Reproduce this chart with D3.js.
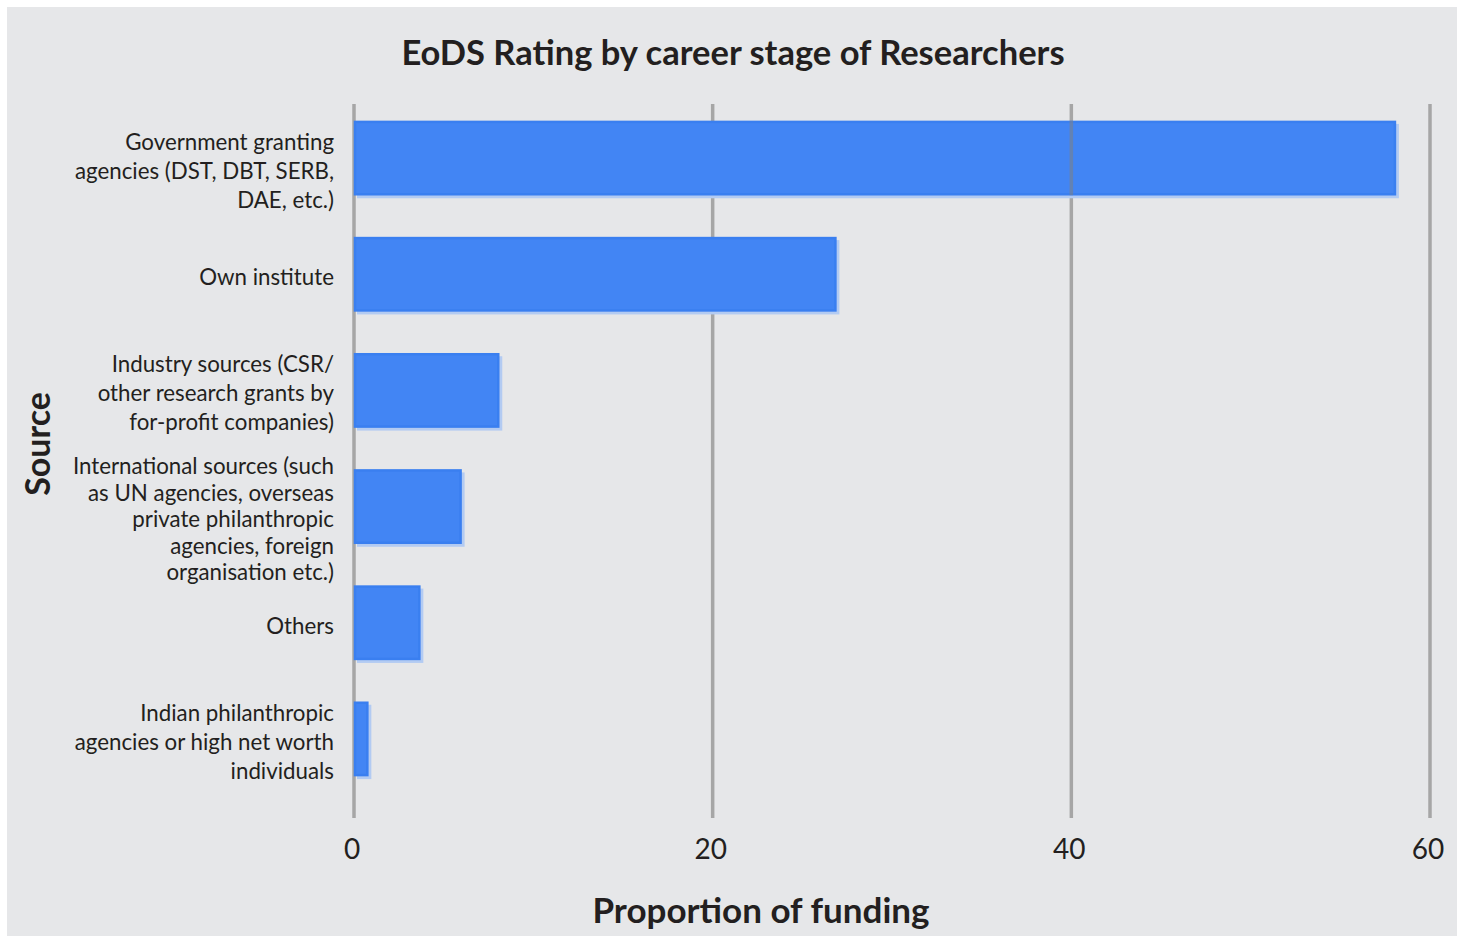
<!DOCTYPE html>
<html>
<head>
<meta charset="utf-8">
<script src="https://cdn.jsdelivr.net/npm/d3@7"></script>
<style>
  html, body { margin: 0; padding: 0; background: #fff; }
  #chart { width: 1464px; height: 936px; }
  text { font-family: Lato, "Open Sans", sans-serif; fill: #231f20; }
</style>
</head>
<body>
<div id="chart"></div>
<script>
// -------------------- DATA --------------------
const sources = [
  "Government",
  "Own institute",
  "Industry",
  "International",
  "Others",
  "Indian philanthropic"
];
const sourceLabels = [
  ["Government granting", "agencies (DST, DBT, SERB,", "DAE, etc.)"],
  ["Own institute"],
  ["Industry sources (CSR/", "other research grants by", "for-profit companies)"],
  ["International sources (such", "as UN agencies, overseas", "private philanthropic", "agencies, foreign", "organisation etc.)"],
  ["Others"],
  ["Indian philanthropic", "agencies or high net worth", "individuals"]
];
const funding = [58.1, 26.9, 8.1, 6.0, 3.7, 0.8];
const xTicks = [0, 20, 40, 60];

const W = 1464, H = 936;
const margin = { top: 104, right: 34, bottom: 118, left: 354 };

const svg = d3.select("#chart").append("svg")
  .attr("width", W)
  .attr("height", H);

// background panel
svg.append("rect")
  .attr("x", 7).attr("y", 7)
  .attr("width", 1450).attr("height", H - 7)
  .attr("fill", "#e6e7e9");

const x = d3.scaleLinear()
  .domain([0, 60])
  .range([margin.left, W - margin.right]);

const y = d3.scaleBand()
  .domain(sources)
  .range([100, 797])
  .paddingInner(0.36)
  .paddingOuter(0.18);

// -------------------- GRID --------------------
svg.append("g")
  .selectAll("line")
  .data(xTicks)
  .join("line")
  .attr("x1", d => x(d)).attr("x2", d => x(d))
  .attr("y1", margin.top).attr("y2", H - margin.bottom)
  .attr("stroke", "#a6a6a6")
  .attr("stroke-width", 3.5);

// -------------------- BARS --------------------
const data = sources.map((s, i) => ({ source: s, value: funding[i], lines: sourceLabels[i] }));

const bars = svg.append("g");

bars.selectAll(".shadow")
  .data(data)
  .join("rect")
  .attr("class", "shadow")
  .attr("x", x(0) + 3)
  .attr("y", d => y(d.source) + 3)
  .attr("width", d => x(d.value) - x(0))
  .attr("height", y.bandwidth())
  .attr("fill", "#b3cbf2");

bars.selectAll(".bar")
  .data(data)
  .join("rect")
  .attr("class", "bar")
  .attr("x", x(0) + 1)
  .attr("y", d => y(d.source) + 1)
  .attr("width", d => x(d.value) - x(0) - 2)
  .attr("height", y.bandwidth() - 2)
  .attr("fill", "#4285f4")
  .attr("stroke", "#3a7ff0")
  .attr("stroke-width", 2.5);

// gridline at 40 shows over the top bar in the reference
svg.append("line")
  .attr("x1", x(40)).attr("x2", x(40))
  .attr("y1", y(sources[0])).attr("y2", y(sources[0]) + y.bandwidth())
  .attr("stroke", "#808080")
  .attr("stroke-opacity", 0.55)
  .attr("stroke-width", 3.5);

// -------------------- Y LABELS --------------------
const labelG = svg.append("g");
data.forEach((d, i) => {
  const lh = d.lines.length > 3 ? 26.5 : 29;
  // first label and the long one sit a little lower in the original
  const nudge = (i === 0 || d.lines.length > 3) ? 13 : 3;
  const cy = y(d.source) + y.bandwidth() / 2 + nudge;
  const t = labelG.append("text")
    .attr("text-anchor", "end")
    .style("font-size", "22.3px");
  d.lines.forEach((ln, j) => {
    t.append("tspan")
      .attr("x", 334)
      .attr("y", cy + (j - (d.lines.length - 1) / 2) * lh)
      .attr("dy", "0.35em")
      .text(ln);
  });
});

// -------------------- X TICKS --------------------
svg.append("g")
  .selectAll("text")
  .data(xTicks)
  .join("text")
  .attr("x", d => x(d) - 2)
  .attr("y", 849)
  .attr("dy", "0.35em")
  .attr("text-anchor", "middle")
  .style("font-size", "28px")
  .text(d => d);

// -------------------- TITLES --------------------
svg.append("text")
  .attr("x", 733).attr("y", 53)
  .attr("dy", "0.35em")
  .attr("text-anchor", "middle")
  .style("font-size", "34.5px")
  .style("font-weight", "bold")
  .text("EoDS Rating by career stage of Researchers");

svg.append("text")
  .attr("x", 761).attr("y", 911)
  .attr("dy", "0.35em")
  .attr("text-anchor", "middle")
  .style("font-size", "35px")
  .style("font-weight", "bold")
  .text("Proportion of funding");

svg.append("text")
  .attr("transform", "translate(38,444) rotate(-90)")
  .attr("dy", "0.35em")
  .attr("text-anchor", "middle")
  .style("font-size", "34px")
  .style("font-weight", "bold")
  .text("Source");
</script>
</body>
</html>
